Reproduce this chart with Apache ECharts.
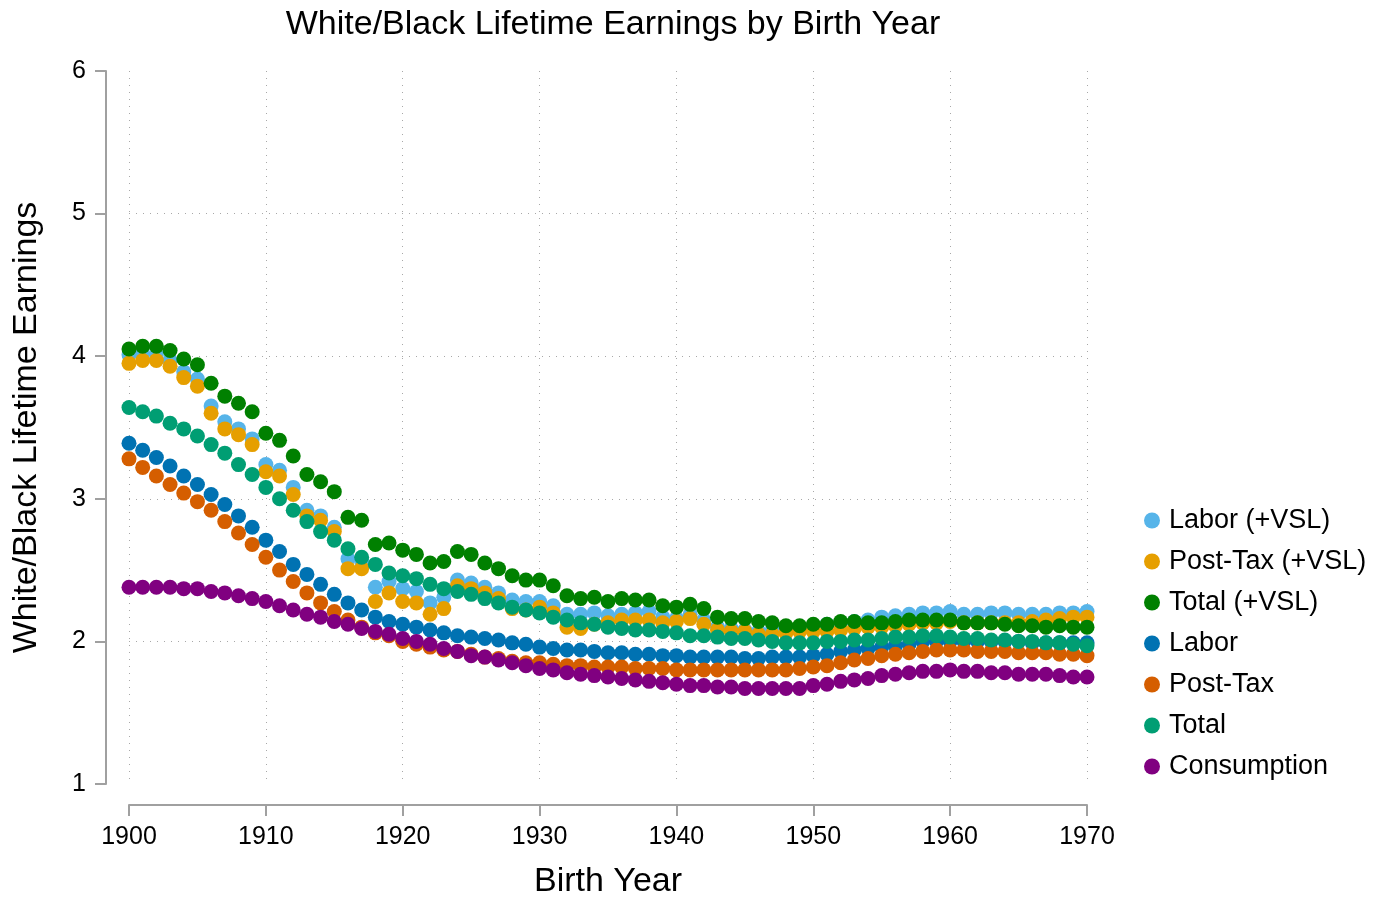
<!DOCTYPE html>
<html>
<head>
<meta charset="utf-8">
<script src="https://cdn.jsdelivr.net/npm/echarts@6/dist/echarts.min.js"></script>
<style>
html,body{margin:0;padding:0;background:#fff;}
#chart{width:1387px;height:899px;}
</style>
</head>
<body>
<div id="chart"></div>
<script>
var titleText = 'White/Black Lifetime Earnings by Birth Year';
var xAxisTitle = 'Birth Year';
var yAxisTitle = 'White/Black Lifetime Earnings';
var seriesNames = ['Labor (+VSL)', 'Post-Tax (+VSL)', 'Total (+VSL)', 'Labor', 'Post-Tax', 'Total', 'Consumption'];
var seriesColors = ['#56B4E9', '#E69F00', '#008000', '#0072B2', '#D55E00', '#009E73', '#800080'];

var years = [];
for (var y = 1900; y <= 1970; y++) years.push(y);

var laborVSL = [4.01,4.02,4.01,3.97,3.89,3.84,3.65,3.54,3.49,3.42,
 3.24,3.20,3.08,2.92,2.88,2.80,2.58,2.56,2.38,2.42,
 2.37,2.35,2.27,2.31,2.43,2.41,2.38,2.34,2.29,2.28,
 2.28,2.25,2.19,2.19,2.20,2.18,2.19,2.20,2.21,2.17,
 2.16,2.19,2.15,2.10,2.09,2.08,2.07,2.08,2.09,2.10,
 2.11,2.12,2.13,2.14,2.15,2.17,2.18,2.19,2.20,2.20,
 2.21,2.19,2.19,2.20,2.20,2.19,2.19,2.19,2.20,2.20,2.21];

var postTaxVSL = [3.95,3.97,3.97,3.93,3.85,3.79,3.60,3.49,3.45,3.38,
 3.19,3.16,3.03,2.88,2.85,2.77,2.51,2.51,2.28,2.34,
 2.28,2.27,2.19,2.23,2.39,2.37,2.34,2.30,2.23,2.22,
 2.24,2.20,2.10,2.09,2.12,2.13,2.15,2.15,2.15,2.13,
 2.14,2.16,2.12,2.08,2.07,2.07,2.05,2.05,2.06,2.07,
 2.07,2.07,2.08,2.09,2.10,2.10,2.11,2.12,2.13,2.13,
 2.14,2.13,2.13,2.13,2.13,2.13,2.14,2.15,2.16,2.17,2.17];

var totalVSL = [4.05,4.07,4.07,4.04,3.98,3.94,3.81,3.72,3.67,3.61,
 3.46,3.41,3.30,3.17,3.12,3.05,2.87,2.85,2.68,2.69,
 2.64,2.61,2.55,2.56,2.63,2.61,2.55,2.51,2.46,2.43,
 2.43,2.39,2.32,2.30,2.31,2.28,2.30,2.29,2.29,2.25,
 2.24,2.26,2.23,2.17,2.16,2.16,2.14,2.13,2.11,2.11,
 2.12,2.12,2.14,2.14,2.13,2.13,2.14,2.15,2.15,2.15,
 2.15,2.13,2.13,2.13,2.12,2.11,2.11,2.10,2.11,2.10,2.10];

var labor = [3.39,3.34,3.29,3.23,3.16,3.10,3.03,2.96,2.88,2.80,
 2.71,2.63,2.54,2.47,2.40,2.33,2.27,2.22,2.17,2.14,
 2.12,2.10,2.08,2.06,2.04,2.03,2.02,2.01,1.99,1.98,
 1.96,1.95,1.94,1.94,1.93,1.92,1.92,1.91,1.91,1.90,
 1.90,1.89,1.89,1.89,1.89,1.88,1.88,1.89,1.89,1.89,
 1.90,1.91,1.93,1.94,1.95,1.96,1.97,1.98,2.00,2.00,
 2.00,2.00,2.00,2.00,2.00,2.00,1.99,1.99,1.99,1.99,1.99];

var postTax = [3.28,3.22,3.16,3.10,3.04,2.98,2.92,2.84,2.76,2.68,
 2.59,2.50,2.42,2.34,2.27,2.21,2.15,2.10,2.06,2.04,
 2.00,1.98,1.96,1.94,1.93,1.91,1.89,1.88,1.86,1.85,
 1.85,1.84,1.83,1.83,1.82,1.82,1.82,1.81,1.81,1.81,
 1.80,1.80,1.80,1.80,1.80,1.80,1.80,1.80,1.80,1.81,
 1.82,1.83,1.85,1.87,1.88,1.90,1.91,1.92,1.93,1.94,
 1.94,1.94,1.93,1.93,1.93,1.92,1.92,1.92,1.91,1.91,1.90];

var total = [3.64,3.61,3.58,3.53,3.49,3.44,3.38,3.32,3.24,3.17,
 3.08,3.00,2.92,2.84,2.77,2.71,2.65,2.59,2.54,2.48,
 2.46,2.44,2.40,2.37,2.35,2.33,2.30,2.27,2.24,2.22,
 2.20,2.17,2.15,2.13,2.12,2.10,2.09,2.08,2.08,2.07,
 2.06,2.04,2.04,2.03,2.02,2.02,2.01,2.00,1.99,1.99,
 1.99,2.00,2.00,2.01,2.01,2.02,2.03,2.03,2.04,2.04,
 2.03,2.02,2.02,2.01,2.01,2.00,2.00,1.99,1.99,1.98,1.97];

var consumption = [2.38,2.38,2.38,2.38,2.37,2.37,2.35,2.34,2.32,2.30,
 2.28,2.25,2.22,2.19,2.17,2.14,2.12,2.09,2.07,2.05,
 2.02,2.00,1.98,1.95,1.93,1.90,1.89,1.87,1.85,1.83,
 1.81,1.80,1.78,1.77,1.76,1.75,1.74,1.73,1.72,1.71,
 1.70,1.69,1.69,1.68,1.68,1.67,1.67,1.67,1.67,1.67,
 1.69,1.70,1.72,1.73,1.74,1.76,1.77,1.78,1.79,1.79,
 1.80,1.79,1.79,1.78,1.78,1.77,1.77,1.77,1.76,1.75,1.75];

var allValues = [laborVSL, postTaxVSL, totalVSL, labor, postTax, total, consumption];

var FONT = '"Liberation Sans", Arial, Helvetica, sans-serif';
var chart = echarts.init(document.getElementById('chart'), null, {renderer: 'canvas'});

var series = seriesNames.map(function (name, i) {
  return {
    name: name,
    type: 'scatter',
    symbol: 'circle',
    symbolSize: 15,
    itemStyle: {color: seriesColors[i], opacity: 1},
    emphasis: {disabled: true},
    data: years.map(function (yr, k) { return [yr, allValues[i][k]]; })
  };
});

chart.setOption({
  animation: false,
  backgroundColor: '#ffffff',
  title: {
    text: titleText,
    left: 608,
    top: 3,
    textAlign: 'center',
    textStyle: {fontFamily: FONT, fontSize: 34, fontWeight: 'normal', color: '#000'}
  },
  legend: {
    orient: 'vertical',
    left: 1139,
    top: 502,
    itemWidth: 16,
    itemHeight: 16,
    itemGap: 14,
    icon: 'circle',
    data: seriesNames,
    textStyle: {fontFamily: FONT, fontSize: 27, color: '#000', padding: [0, 0, 0, 4]}
  },
  grid: {left: 129, right: 300, top: 71, bottom: 115, containLabel: false, outerBoundsMode: 'none'},
  xAxis: {
    type: 'value',
    min: 1900,
    max: 1970,
    interval: 10,
    offset: 21,
    name: xAxisTitle,
    nameLocation: 'middle',
    nameGap: 60,
    nameTextStyle: {fontFamily: FONT, fontSize: 34, color: '#000'},
    axisLine: {show: true, lineStyle: {color: '#a0a0a0', width: 2}},
    axisTick: {show: true, length: 11, lineStyle: {color: '#a0a0a0', width: 2}},
    axisLabel: {fontFamily: FONT, fontSize: 25, color: '#000', margin: 20,
      formatter: function (v) { return String(v); }},
    splitLine: {show: true, lineStyle: {color: '#a8a8a8', type: [1, 6], width: 1}}
  },
  yAxis: {
    type: 'value',
    min: 1,
    max: 6,
    interval: 1,
    offset: 23,
    name: yAxisTitle,
    nameLocation: 'middle',
    nameGap: 62,
    nameTextStyle: {fontFamily: FONT, fontSize: 34, color: '#000'},
    axisLine: {show: true, lineStyle: {color: '#a0a0a0', width: 2}},
    axisTick: {show: true, length: 11, lineStyle: {color: '#a0a0a0', width: 2}},
    axisLabel: {fontFamily: FONT, fontSize: 25, color: '#000', margin: 20},
    splitLine: {show: true, showMinLine: false, showMaxLine: false, lineStyle: {color: '#a8a8a8', type: [1, 6], width: 1}}
  },
  series: series
});
</script>
</body>
</html>
